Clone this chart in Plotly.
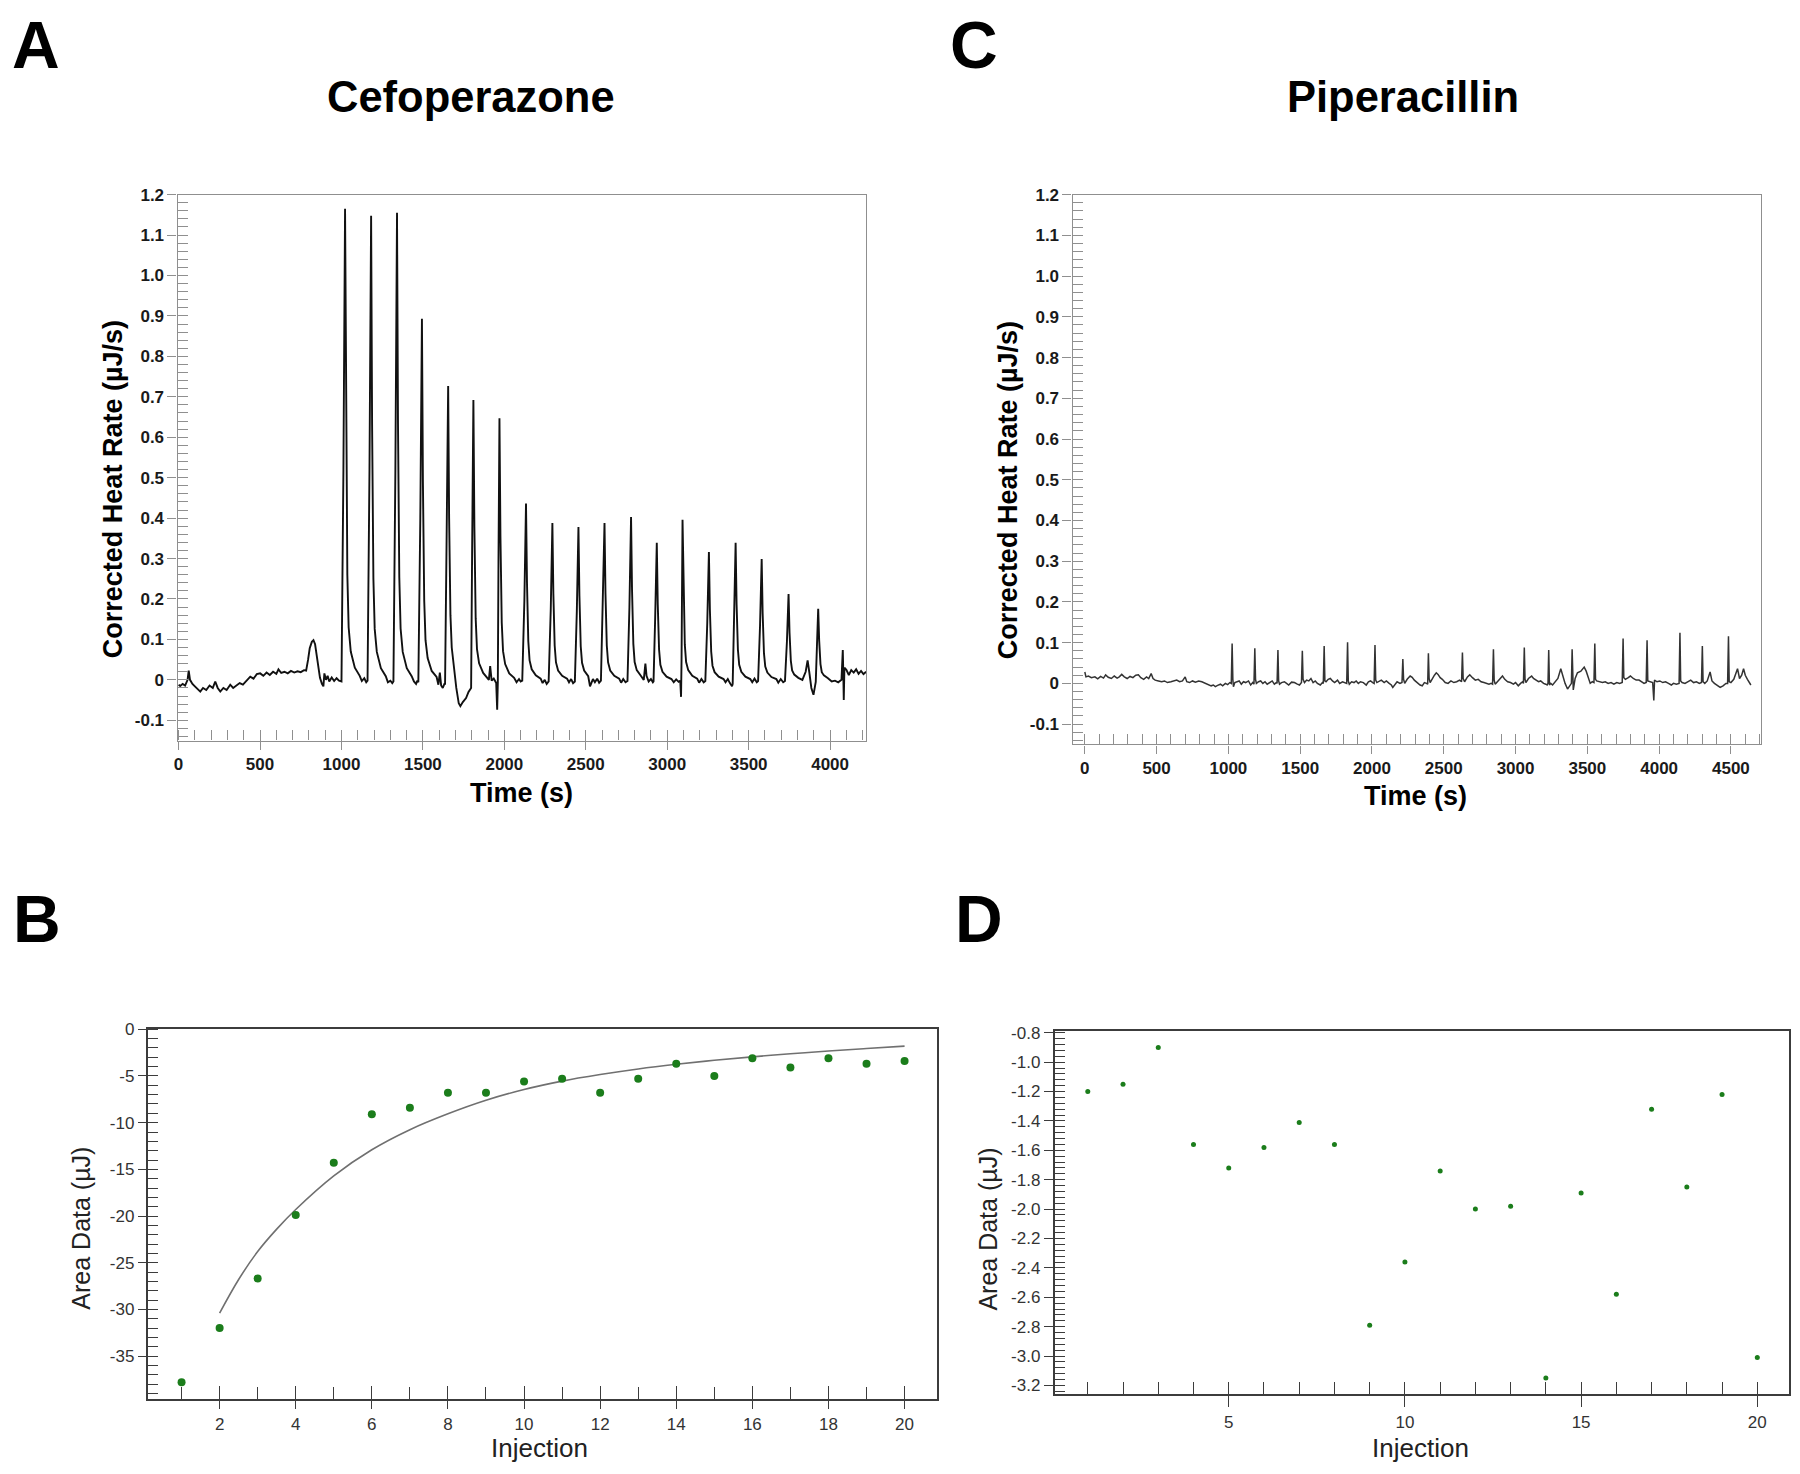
import plotly.graph_objects as go

# page is 1800x1474; browser body margin is 8 px, so the figure is 1784x1458
PAGE_W, PAGE_H = 1800, 1474
OFF = 8
W, H = PAGE_W - 2 * OFF, PAGE_H - 2 * OFF

# ---------------- data ----------------
# Panel A: Cefoperazone raw ITC trace (time s, corrected heat rate uJ/s)
cef_trace = [
    (0, -0.012), (10, -0.015), (25, -0.010), (40, -0.014), (55, 0.000), (62, 0.023), (70, 0.000),
    (85, -0.010), (100, -0.016), (115, -0.022), (133, -0.029), (150, -0.020), (170, -0.025),
    (190, -0.014), (210, -0.020), (225, -0.004), (240, -0.020), (256, -0.029), (275, -0.020),
    (295, -0.025), (317, -0.012), (335, -0.020), (355, -0.015), (375, -0.008), (395, -0.012),
    (415, -0.002), (440, 0.008), (460, 0.003), (480, 0.014), (501, 0.016), (520, 0.010),
    (540, 0.018), (560, 0.012), (580, 0.020), (600, 0.015), (613, 0.026), (630, 0.017),
    (650, 0.020), (670, 0.016), (690, 0.022), (710, 0.018), (730, 0.021), (750, 0.019),
    (770, 0.024), (783, 0.023), (795, 0.050), (805, 0.078), (818, 0.094), (828, 0.098),
    (838, 0.088), (848, 0.060), (858, 0.025), (868, 0.005), (880, -0.010), (889, -0.016),
    (895, 0.016), (905, 0.000), (915, 0.010), (925, -0.004), (940, 0.006), (955, -0.003),
    (970, 0.004), (985, -0.002), (1000, -0.004),
    (1012, 0.52), (1022, 1.165), (1028, 0.64), (1036, 0.26), (1044, 0.13), (1057, 0.07),
    (1082, 0.03), (1112, 0.01), (1125, -0.003), (1140, 0.004), (1152, -0.006),
    (1160, -0.002), (1172, 0.52), (1182, 1.148), (1188, 0.63), (1196, 0.25), (1204, 0.126),
    (1217, 0.069), (1242, 0.029), (1272, 0.009), (1285, -0.006), (1300, -0.002), (1312, -0.008),
    (1319, -0.004), (1331, 0.52), (1341, 1.155), (1347, 0.635), (1355, 0.254), (1363, 0.127),
    (1376, 0.069), (1401, 0.029), (1431, 0.009), (1445, -0.004), (1458, -0.010), (1466, -0.002),
    (1472, -0.006), (1484, 0.40), (1494, 0.893), (1500, 0.49), (1508, 0.196), (1516, 0.098),
    (1529, 0.054), (1554, 0.022), (1584, 0.007), (1595, -0.012), (1604, 0.018), (1612, -0.014),
    (1622, -0.020), (1632, -0.010),
    (1636, -0.010), (1645, 0.33), (1655, 0.727), (1661, 0.40), (1669, 0.16), (1677, 0.08),
    (1690, 0.03), (1705, -0.020), (1720, -0.058), (1730, -0.065), (1745, -0.055), (1765, -0.045),
    (1780, -0.030), (1792, -0.022),
    (1796, -0.020), (1802, 0.31), (1810, 0.692), (1816, 0.38), (1824, 0.152), (1832, 0.076),
    (1845, 0.041), (1870, 0.017), (1895, 0.004), (1905, 0.000), (1913, 0.034), (1922, -0.002),
    (1935, 0.003), (1950, -0.008), (1956, -0.074), (1960, -0.005),
    (1964, 0.29), (1970, 0.647), (1976, 0.356), (1984, 0.142), (1992, 0.071), (2005, 0.039),
    (2030, 0.016), (2060, 0.005), (2075, -0.006), (2090, 0.002), (2100, -0.004),
    (2110, -0.002), (2123, 0.196), (2133, 0.436), (2139, 0.24), (2147, 0.096), (2155, 0.048),
    (2168, 0.026), (2193, 0.011), (2223, 0.003), (2235, -0.008), (2248, 0.000), (2260, -0.010),
    (2272, -0.004), (2285, 0.175), (2295, 0.388), (2301, 0.213), (2309, 0.085), (2317, 0.043),
    (2330, 0.023), (2355, 0.010), (2385, 0.003), (2397, -0.006), (2410, 0.002), (2422, -0.008),
    (2433, -0.004), (2445, 0.17), (2455, 0.378), (2461, 0.208), (2469, 0.083), (2477, 0.042),
    (2490, 0.023), (2515, 0.009), (2526, -0.016), (2544, 0.002), (2556, -0.006), (2570, 0.003),
    (2582, -0.007),
    (2593, -0.002), (2605, 0.175), (2615, 0.388), (2621, 0.213), (2629, 0.085), (2637, 0.043),
    (2650, 0.023), (2675, 0.010), (2705, 0.003), (2717, -0.007), (2730, 0.002), (2744, -0.006),
    (2756, -0.003), (2768, 0.18), (2778, 0.403), (2784, 0.222), (2792, 0.089), (2800, 0.044),
    (2813, 0.024), (2838, 0.010), (2856, 0.000), (2866, 0.040), (2873, 0.010), (2886, -0.004),
    (2900, 0.002), (2912, -0.006),
    (2916, -0.004), (2926, 0.153), (2936, 0.339), (2942, 0.186), (2950, 0.075), (2958, 0.037),
    (2971, 0.020), (2996, 0.008), (3026, 0.002), (3040, -0.006), (3055, 0.001), (3070, -0.005),
    (3080, -0.002), (3085, -0.042), (3088, 0.05),
    (3094, 0.396), (3100, 0.218), (3108, 0.087), (3116, 0.044), (3129, 0.024), (3154, 0.010),
    (3184, 0.003), (3196, -0.007), (3210, 0.002), (3224, -0.006),
    (3234, -0.003), (3246, 0.142), (3256, 0.316), (3262, 0.174), (3270, 0.070), (3278, 0.035),
    (3291, 0.019), (3316, 0.008), (3346, 0.002), (3358, -0.006), (3372, 0.002), (3385, -0.008),
    (3398, -0.016),
    (3402, -0.010), (3410, 0.153), (3420, 0.339), (3426, 0.186), (3434, 0.075), (3442, 0.037),
    (3455, 0.020), (3480, 0.008), (3510, 0.002), (3522, -0.006), (3536, 0.003), (3550, -0.006),
    (3558, -0.003), (3570, 0.135), (3580, 0.299), (3586, 0.164), (3594, 0.066), (3602, 0.033),
    (3615, 0.018), (3640, 0.007), (3670, 0.002), (3682, -0.007), (3697, 0.002), (3712, -0.006),
    (3723, -0.003), (3735, 0.095), (3745, 0.212), (3751, 0.117), (3759, 0.047), (3767, 0.023),
    (3780, 0.013), (3805, 0.005), (3830, 0.000), (3850, 0.020), (3862, 0.048), (3872, 0.020),
    (3885, -0.020), (3898, -0.037), (3906, -0.020),
    (3912, -0.005), (3919, 0.08), (3927, 0.176), (3933, 0.097), (3941, 0.039), (3949, 0.019),
    (3962, 0.011), (3987, 0.004), (4010, -0.004), (4030, -0.002), (4050, -0.006), (4070, 0.000),
    (4078, 0.074), (4081, 0.020), (4084, -0.050), (4088, 0.030), (4100, 0.025), (4115, 0.012),
    (4130, 0.024), (4145, 0.018), (4160, 0.026), (4175, 0.015), (4190, 0.022), (4205, 0.014),
    (4221, 0.020),
]

# Panel C: Piperacillin raw ITC trace
pip_trace = [
    (0, 0.028), (8, 0.016), (25, 0.018), (46, 0.014), (70, 0.016), (90, 0.011), (110, 0.017),
    (130, 0.013), (145, 0.021), (163, 0.015), (185, 0.012), (205, 0.018), (225, 0.013),
    (240, 0.016), (257, 0.022), (275, 0.016), (295, 0.012), (315, 0.017), (335, 0.014),
    (355, 0.020), (373, 0.021), (390, 0.014), (410, 0.010), (430, 0.016), (445, 0.012),
    (462, 0.024), (475, 0.012), (490, 0.008), (513, 0.006), (535, 0.004), (555, 0.006),
    (575, 0.002), (600, 0.004), (620, 0.006), (640, 0.008), (660, 0.004), (680, 0.006),
    (699, 0.016), (710, 0.004), (730, 0.002), (750, 0.006), (770, 0.003), (793, 0.006),
    (815, 0.004), (839, 0.000), (860, -0.004), (880, -0.006), (895, -0.004), (909, -0.008),
    (925, -0.005), (945, -0.002), (960, -0.006), (979, 0.000), (995, -0.003), (1010, 0.002),
    (1020, 0.000), (1026, 0.098), (1031, 0.010), (1035, -0.008), (1045, 0.002), (1060, 0.004),
    (1075, 0.006), (1090, -0.002), (1105, 0.004), (1120, 0.002), (1140, 0.006), (1155, -0.004),
    (1170, 0.002), (1178, -0.002), (1184, 0.086), (1189, 0.010), (1195, 0.000), (1210, 0.004),
    (1225, 0.006), (1240, 0.000), (1255, 0.004), (1270, -0.002), (1290, 0.002), (1305, 0.006),
    (1320, -0.002), (1334, 0.002), (1339, 0.000), (1345, 0.082), (1350, 0.006), (1356, -0.002),
    (1370, 0.002), (1390, 0.004), (1405, 0.000), (1420, -0.004), (1440, 0.003), (1460, 0.002),
    (1480, -0.002), (1495, -0.004), (1509, 0.002), (1515, 0.080), (1520, 0.010), (1530, 0.002),
    (1545, 0.008), (1560, 0.006), (1575, 0.012), (1590, 0.002), (1605, 0.006), (1620, 0.000),
    (1640, -0.004), (1655, 0.002), (1661, 0.000), (1667, 0.092), (1672, 0.006), (1680, 0.004),
    (1695, 0.010), (1710, 0.012), (1725, 0.006), (1740, 0.002), (1760, 0.008), (1775, 0.000),
    (1795, 0.004), (1810, 0.002), (1824, 0.000), (1830, 0.101), (1835, 0.006), (1842, -0.002),
    (1858, 0.004), (1875, 0.002), (1890, 0.006), (1905, 0.000), (1920, 0.004), (1940, 0.002),
    (1960, -0.004), (1975, 0.004), (1990, 0.006), (2005, 0.002), (2015, 0.000), (2021, 0.094),
    (2026, 0.008), (2034, 0.002), (2050, 0.006), (2065, 0.008), (2085, 0.002), (2100, 0.006),
    (2120, 0.000), (2135, -0.004), (2145, -0.010), (2160, -0.002), (2175, 0.004), (2195, 0.000),
    (2209, 0.002), (2215, 0.060), (2220, 0.010), (2228, 0.000), (2245, 0.010), (2266, 0.018),
    (2280, 0.015), (2295, 0.008), (2315, 0.002), (2335, -0.004), (2350, -0.006), (2365, 0.002),
    (2380, 0.000), (2388, -0.002), (2393, 0.074), (2398, 0.012), (2405, 0.002), (2420, 0.012),
    (2435, 0.020), (2448, 0.026), (2460, 0.022), (2475, 0.014), (2490, 0.010), (2510, 0.002),
    (2530, 0.000), (2550, 0.006), (2570, 0.002), (2590, 0.004), (2610, 0.008), (2624, 0.004),
    (2630, 0.076), (2635, 0.012), (2645, 0.004), (2665, 0.016), (2681, 0.021), (2700, 0.014),
    (2720, 0.008), (2740, 0.010), (2760, 0.004), (2780, 0.002), (2797, 0.000), (2815, -0.002),
    (2830, 0.000), (2840, -0.002), (2846, 0.084), (2851, 0.008), (2858, -0.002), (2875, 0.004),
    (2895, 0.012), (2909, 0.018), (2925, 0.010), (2945, 0.004), (2965, 0.002), (2985, -0.002),
    (3000, 0.002), (3019, -0.006), (3035, 0.000), (3050, 0.004), (3055, 0.000), (3061, 0.088),
    (3066, 0.010), (3072, 0.002), (3090, 0.012), (3112, 0.018), (3125, 0.012), (3140, 0.008),
    (3160, 0.004), (3175, 0.006), (3195, 0.000), (3210, -0.002), (3220, -0.004), (3226, 0.000),
    (3231, 0.082), (3236, -0.004), (3245, 0.000), (3258, -0.004), (3275, 0.004), (3295, 0.012),
    (3315, 0.036), (3330, 0.015), (3345, 0.000), (3362, -0.014), (3378, -0.004), (3389, 0.000),
    (3394, 0.084), (3398, -0.002), (3402, -0.016), (3415, 0.012), (3431, 0.026), (3455, 0.030),
    (3478, 0.040), (3492, 0.030), (3505, 0.016), (3520, 0.000), (3535, 0.004), (3546, 0.002),
    (3552, 0.098), (3557, 0.010), (3565, 0.006), (3585, 0.004), (3605, 0.002), (3625, 0.004),
    (3645, 0.000), (3665, 0.002), (3685, -0.002), (3705, 0.002), (3725, 0.000), (3743, 0.002),
    (3749, 0.110), (3754, 0.014), (3765, 0.010), (3785, 0.014), (3800, 0.018), (3820, 0.012),
    (3840, 0.008), (3860, 0.008), (3880, 0.004), (3895, 0.000), (3910, 0.002), (3916, 0.106),
    (3921, 0.006), (3935, 0.004), (3955, 0.002), (3963, -0.042), (3968, 0.008), (3985, 0.004),
    (4005, 0.006), (4025, 0.002), (4045, 0.004), (4065, 0.000), (4085, -0.004), (4100, 0.000),
    (4120, -0.002), (4139, 0.000), (4145, 0.124), (4150, 0.006), (4160, 0.002), (4180, 0.000),
    (4200, 0.004), (4220, 0.008), (4240, 0.002), (4260, 0.004), (4280, 0.000), (4295, 0.002),
    (4301, 0.092), (4306, 0.004), (4318, 0.000), (4335, 0.006), (4355, 0.028), (4368, 0.006),
    (4385, 0.000), (4405, -0.004), (4425, -0.010), (4445, -0.006), (4465, 0.000), (4477, 0.000),
    (4483, 0.116), (4488, 0.004), (4500, 0.002), (4520, 0.010), (4535, 0.025), (4546, 0.036),
    (4560, 0.012), (4575, 0.020), (4588, 0.036), (4600, 0.020), (4615, 0.010), (4625, 0.004),
    (4639, -0.004),
]

cef_time = [p[0] for p in cef_trace]
cef_rate = [p[1] for p in cef_trace]
pip_time = [p[0] for p in pip_trace]
pip_rate = [p[1] for p in pip_trace]

# Panel B: Cefoperazone integrated injections + fit curve
b_injection = list(range(1, 21))
b_area = [-37.8, -32.0, -26.7, -19.9, -14.3, -9.1, -8.4, -6.8, -6.8, -5.6,
          -5.3, -6.8, -5.3, -3.7, -5.0, -3.1, -4.1, -3.1, -3.7, -3.4]
b_fit_x = [2, 2.5, 3, 3.5, 4, 5, 6, 7, 8, 9, 10, 11, 12, 13, 14, 15, 16, 17, 18, 19, 20]
b_fit_y = [-30.4, -26.8, -23.8, -21.4, -19.3, -15.7, -12.9, -10.75, -9.05, -7.6, -6.45,
           -5.55, -4.85, -4.25, -3.75, -3.32, -2.95, -2.62, -2.33, -2.06, -1.8]

# Panel D: Piperacillin integrated injections
d_injection = list(range(1, 21))
d_area = [-1.20, -1.15, -0.90, -1.56, -1.72, -1.58, -1.41, -1.56, -2.79, -2.36,
          -1.74, -2.00, -1.98, -3.15, -1.89, -2.58, -1.32, -1.85, -1.22, -3.01]

# tick labels
rate_tickvals = [-0.1, 0, 0.1, 0.2, 0.3, 0.4, 0.5, 0.6, 0.7, 0.8, 0.9, 1.0, 1.1, 1.2]
rate_ticktext = ["-0.1", "0", "0.1", "0.2", "0.3", "0.4", "0.5", "0.6", "0.7", "0.8",
                 "0.9", "1.0", "1.1", "1.2"]
cef_time_ticks = [0, 500, 1000, 1500, 2000, 2500, 3000, 3500, 4000]
pip_time_ticks = [0, 500, 1000, 1500, 2000, 2500, 3000, 3500, 4000, 4500]
b_yticks = [0, -5, -10, -15, -20, -25, -30, -35]
b_xticks = [2, 4, 6, 8, 10, 12, 14, 16, 18, 20]
d_yticks = [-0.8, -1.0, -1.2, -1.4, -1.6, -1.8, -2.0, -2.2, -2.4, -2.6, -2.8, -3.0, -3.2]
d_yticktext = ["-0.8", "-1.0", "-1.2", "-1.4", "-1.6", "-1.8", "-2.0", "-2.2", "-2.4",
               "-2.6", "-2.8", "-3.0", "-3.2"]
d_xticks = [5, 10, 15, 20]

# ---------------- styling / layout ----------------
def fx(px):
    return (px - OFF) / W


def fy(py):
    return 1 - (py - OFF) / H


GREY = "#8f8f8f"
DARK = "#3c3c3c"
GREEN = "#1b7d1b"
FONT = "Liberation Sans, Arial, sans-serif"

bold_tick = dict(family=FONT, size=17, color="#1a1a1a", weight="bold")
reg_tick = dict(family=FONT, size=17, color="#333333")

fig = go.Figure()

fig.add_trace(go.Scatter(x=cef_time, y=cef_rate, mode="lines",
                         line=dict(color="#111111", width=1.9),
                         xaxis="x", yaxis="y", showlegend=False, hoverinfo="skip"))
fig.add_trace(go.Scatter(x=pip_time, y=pip_rate, mode="lines",
                         line=dict(color="#333333", width=1.5),
                         xaxis="x2", yaxis="y2", showlegend=False, hoverinfo="skip"))
fig.add_trace(go.Scatter(x=b_fit_x, y=b_fit_y, mode="lines",
                         line=dict(color="#707070", width=1.6, shape="spline", smoothing=1.0),
                         xaxis="x3", yaxis="y3", showlegend=False, hoverinfo="skip"))
fig.add_trace(go.Scatter(x=b_injection, y=b_area, mode="markers",
                         marker=dict(color=GREEN, size=8),
                         xaxis="x3", yaxis="y3", showlegend=False))
fig.add_trace(go.Scatter(x=d_injection, y=d_area, mode="markers",
                         marker=dict(color=GREEN, size=5),
                         xaxis="x4", yaxis="y4", showlegend=False))

# dummy traces for overlay axes (inner part of major ticks)
for i in range(5, 9):
    fig.add_trace(go.Scatter(x=[None], y=[None], mode="markers", xaxis=f"x{i}",
                             yaxis=f"y{i}", showlegend=False, hoverinfo="skip"))

panels = {
    # name: (left, right, top, bottom) in page px
    "A": (174, 864, 187, 737),
    "C": (1071, 1761, 187, 741),
    "B": (144, 935, 1028, 1401),
    "D": (1053, 1789, 1030, 1395),
}


def main_axis(dom, rng, anchor, tickvals, ticktext, tickfont, color, lw, major_len,
              minor_dtick, minor_tick0, minor_len):
    return dict(domain=dom, range=rng, anchor=anchor, showgrid=False, zeroline=False,
                showline=True, mirror=True, linecolor=color, linewidth=lw,
                tickmode="array", tickvals=tickvals, ticktext=ticktext,
                ticks="outside", ticklen=major_len, tickwidth=1.2, tickcolor=color,
                tickfont=tickfont,
                minor=dict(ticks="inside", dtick=minor_dtick, tick0=minor_tick0,
                           ticklen=minor_len, tickwidth=1.2, tickcolor=color, showgrid=False))


def overlay_axis(dom, rng, anchor, over, tickvals, color, ln):
    return dict(domain=dom, range=rng, anchor=anchor, overlaying=over, showgrid=False,
                zeroline=False, showline=False, showticklabels=False,
                tickmode="array", tickvals=tickvals, ticks="inside", ticklen=ln,
                tickwidth=1.2, tickcolor=color)


layout = dict(width=W, height=H, autosize=False, margin=dict(l=0, r=0, t=0, b=0),
              paper_bgcolor="white", plot_bgcolor="white", showlegend=False)

# A
l, r, t, b = panels["A"]
xd, yd = [fx(l), fx(r)], [fy(b), fy(t)]
layout["xaxis"] = main_axis(xd, [-6, 4221], "y", cef_time_ticks, [str(v) for v in cef_time_ticks],
                            bold_tick, GREY, 1.3, 8, 100, 0, 10)
layout["yaxis"] = main_axis(yd, [-0.15, 1.2], "x", rate_tickvals, rate_ticktext,
                            bold_tick, GREY, 1.3, 9, 0.02, 0, 10)
layout["xaxis5"] = overlay_axis(xd, [-6, 4221], "y", "x", cef_time_ticks, GREY, 10)
layout["yaxis5"] = overlay_axis(yd, [-0.15, 1.2], "x", "y", rate_tickvals, GREY, 10)

# C
l, r, t, b = panels["C"]
xd, yd = [fx(l), fx(r)], [fy(b), fy(t)]
layout["xaxis2"] = main_axis(xd, [-85, 4710], "y2", pip_time_ticks, [str(v) for v in pip_time_ticks],
                             bold_tick, GREY, 1.3, 8, 100, 0, 10)
layout["yaxis2"] = main_axis(yd, [-0.15, 1.2], "x2", rate_tickvals, rate_ticktext,
                             bold_tick, GREY, 1.3, 9, 0.02, 0, 10)
layout["xaxis6"] = overlay_axis(xd, [-85, 4710], "y2", "x2", pip_time_ticks, GREY, 10)
layout["yaxis6"] = overlay_axis(yd, [-0.15, 1.2], "x2", "y2", rate_tickvals, GREY, 10)

# B
l, r, t, b = panels["B"]
xd, yd = [fx(l), fx(r)], [fy(b), fy(t)]
layout["xaxis3"] = main_axis(xd, [0.11, 20.85], "y3", b_xticks, [str(v) for v in b_xticks],
                             reg_tick, DARK, 1.8, 8, 1, 0, 13)
layout["yaxis3"] = main_axis(yd, [-39.65, 0], "x3", b_yticks, [str(v) for v in b_yticks],
                             reg_tick, DARK, 1.8, 8, 1, 0, 10)
layout["xaxis7"] = overlay_axis(xd, [0.11, 20.85], "y3", "x3", b_xticks, DARK, 13)
layout["yaxis7"] = overlay_axis(yd, [-39.65, 0], "x3", "y3", b_yticks, DARK, 10)

# D
l, r, t, b = panels["D"]
xd, yd = [fx(l), fx(r)], [fy(b), fy(t)]
layout["xaxis4"] = main_axis(xd, [0.06, 20.9], "y4", d_xticks, [str(v) for v in d_xticks],
                             reg_tick, DARK, 1.8, 12, 1, 0, 12)
layout["yaxis4"] = main_axis(yd, [-3.255, -0.79], "x4", d_yticks, d_yticktext,
                             reg_tick, DARK, 1.8, 9, 0.04, -0.8, 10)
layout["xaxis8"] = overlay_axis(xd, [0.06, 20.9], "y4", "x4", d_xticks, DARK, 12)
layout["yaxis8"] = overlay_axis(yd, [-3.255, -0.79], "x4", "y4", d_yticks, DARK, 10)


def ann(text, px, py, size, bold=False, angle=0, color="#000000"):
    return dict(text=text, x=fx(px), y=fy(py), xref="paper", yref="paper",
                xanchor="center", yanchor="middle", showarrow=False, textangle=angle,
                font=dict(family=FONT, size=size, color=color,
                          weight="bold" if bold else "normal"))


annotations = [
    ann("A", 32, 36, 66, True),
    ann("C", 972, 36, 66, True),
    ann("B", 33, 917, 66, True),
    ann("D", 977, 917, 66, True),
    ann("Cefoperazone", 468, 89, 43.5, True),
    ann("Piperacillin", 1402, 89, 43.5, True),
    ann("Corrected Heat Rate (µJ/s)", 110, 484, 27, True, -90),
    ann("Time (s)", 519, 790, 27, True),
    ann("Corrected Heat Rate (µJ/s)", 1007, 485, 27, True, -90),
    ann("Time (s)", 1415, 793, 27, True),
    ann("Area Data (µJ)", 77, 1228, 25, False, -90, "#222222"),
    ann("Injection", 537, 1450, 26, False, 0, "#222222"),
    ann("Area Data (µJ)", 986, 1229, 25, False, -90, "#222222"),
    ann("Injection", 1420, 1450, 26, False, 0, "#222222"),
]
layout["annotations"] = annotations

fig.update_layout(**layout)
fig.write_html("out.html")
